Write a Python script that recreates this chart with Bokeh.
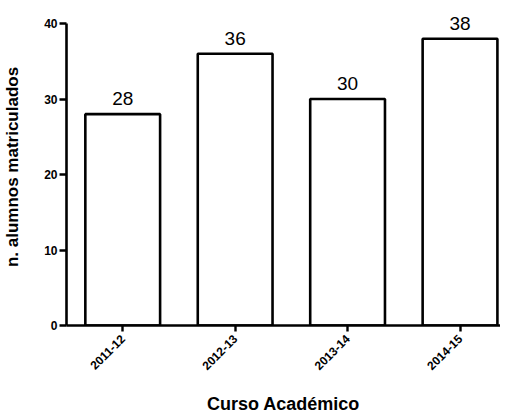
from bokeh.plotting import figure
from bokeh.models import ColumnDataSource, FixedTicker, Range1d
from bokeh.core.properties import value
from bokeh.embed import file_html
from bokeh.resources import INLINE

cursos = ["2011-12", "2012-13", "2013-14", "2014-15"]
alumnos = [28, 36, 30, 38]
y_ticks = [0, 10, 20, 30, 40]

pos = list(range(1, len(cursos) + 1))
src = ColumnDataSource(dict(x=pos, top=alumnos, lab=[str(v) for v in alumnos]))

p = figure(frame_width=434, frame_height=317, output_backend="svg", toolbar_location=None,
           x_range=Range1d(0.5, 4.36), y_range=Range1d(0, 42),
           min_border_top=8, min_border_right=0, min_border_left=64, min_border_bottom=92)
p.outline_line_color = None
p.grid.grid_line_color = None
p.background_fill_color = "white"
p.border_fill_color = "white"

p.vbar(x="x", top="top", bottom=0, width=0.665, source=src,
       fill_color="white", line_color="black", line_width=2.6)
p.text(x="x", y="top", text="lab", source=src, text_align="center",
       text_baseline="bottom", y_offset=-9, text_font=value("Liberation Sans"),
       text_font_size="19px", text_color="black")

fnt = "Liberation Sans"
for ax in (p.xaxis, p.yaxis):
    ax.minor_tick_line_color = None
    ax.major_tick_in = 0
    ax.axis_line_width = 2.6
    ax.major_tick_line_width = 2.4
    ax.axis_line_color = "black"
    ax.major_tick_line_color = "black"
    ax.major_label_text_font = fnt
    ax.major_label_text_font_style = "bold"
    ax.major_label_text_color = "black"
    ax.axis_label_text_font = fnt
    ax.axis_label_text_font_style = "bold"
    ax.axis_label_text_color = "black"

p.yaxis.ticker = FixedTicker(ticks=y_ticks)
p.yaxis.bounds = (0, 40)
p.yaxis.major_tick_out = 7
p.yaxis.major_label_text_font_size = "12px"
p.yaxis.major_label_standoff = 2
p.yaxis.axis_label = "n. alumnos matriculados"
p.yaxis.axis_label_text_font_size = "17px"
p.yaxis.axis_label_standoff = 19

p.xaxis.ticker = FixedTicker(ticks=pos)
p.xaxis.major_label_overrides = {i: c for i, c in zip(pos, cursos)}
p.xaxis.major_tick_out = 6
p.xaxis.major_label_orientation = 0.785
p.xaxis.major_label_text_font_size = "12px"
p.xaxis.major_label_standoff = 5
p.xaxis.axis_label = "Curso Académico"
p.xaxis.axis_label_text_font_size = "18px"
p.xaxis.axis_label_standoff = 17

open("out.html", "w").write(file_html(p, INLINE))
